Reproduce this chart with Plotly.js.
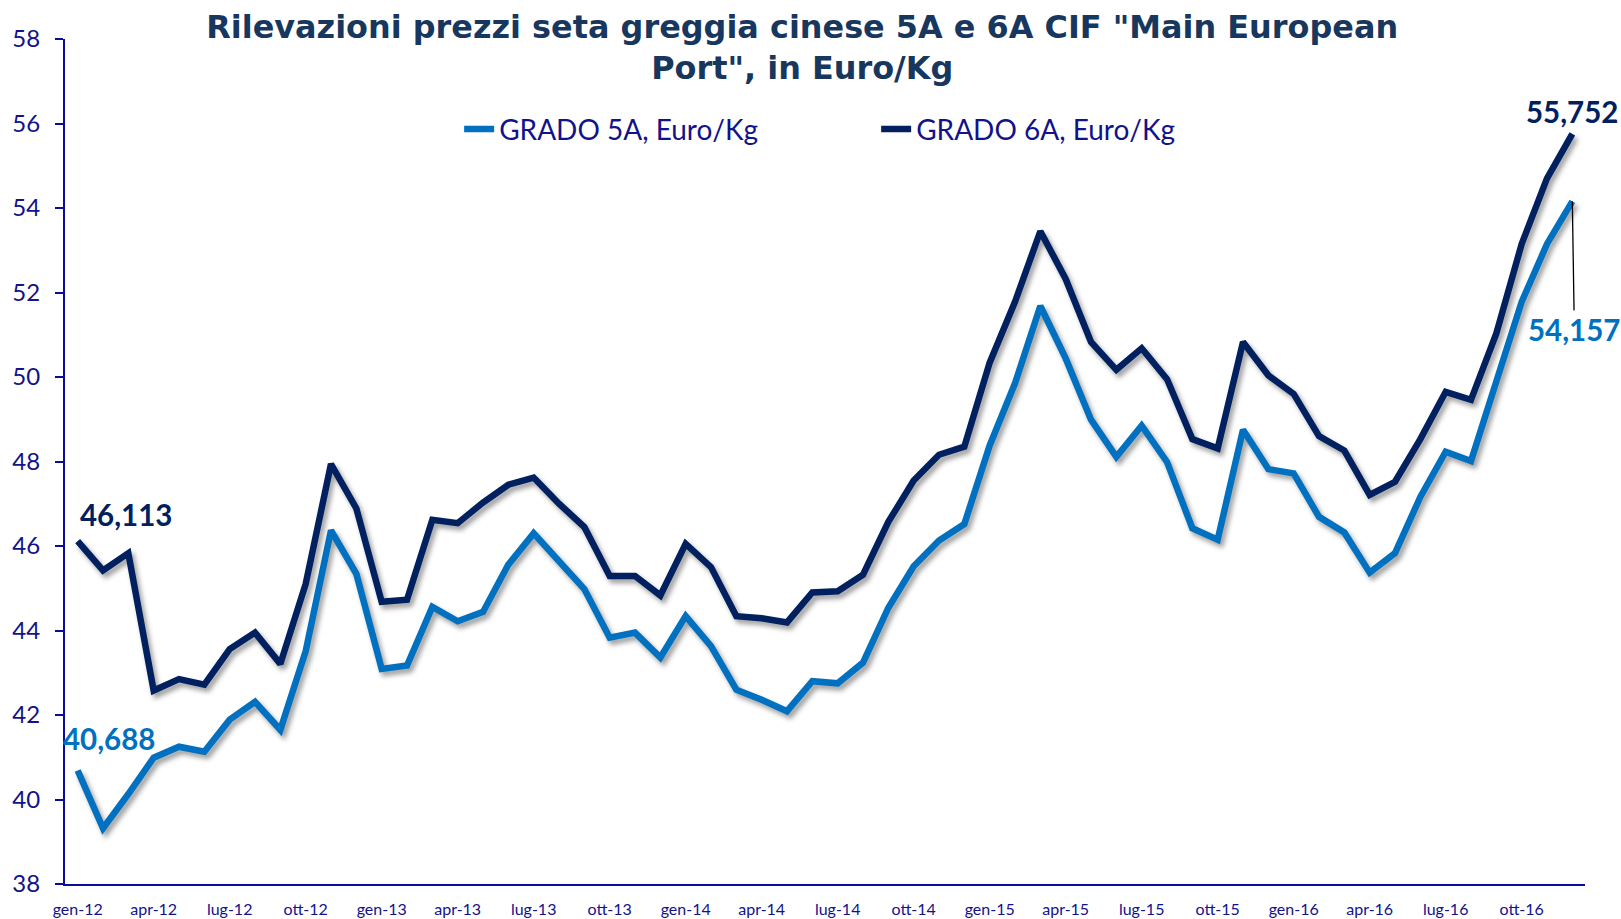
<!DOCTYPE html>
<html>
<head>
<meta charset="utf-8">
<script src="https://cdn.plot.ly/plotly-3.0.1.min.js"></script>
<style>
  html, body { margin: 0; padding: 0; background: #fff; }
  #chart { width: 1621px; height: 919px; }
  .scatterlayer .js-line { filter: drop-shadow(3px 4px 2.5px rgba(0,0,0,0.38)); }
</style>
</head>
<body>
<div id="chart"></div>
<script>
const months = [
  'gen-12','feb-12','mar-12','apr-12','mag-12','giu-12','lug-12','ago-12','set-12','ott-12','nov-12','dic-12',
  'gen-13','feb-13','mar-13','apr-13','mag-13','giu-13','lug-13','ago-13','set-13','ott-13','nov-13','dic-13',
  'gen-14','feb-14','mar-14','apr-14','mag-14','giu-14','lug-14','ago-14','set-14','ott-14','nov-14','dic-14',
  'gen-15','feb-15','mar-15','apr-15','mag-15','giu-15','lug-15','ago-15','set-15','ott-15','nov-15','dic-15',
  'gen-16','feb-16','mar-16','apr-16','mag-16','giu-16','lug-16','ago-16','set-16','ott-16','nov-16','dic-16'
];

const grado5A = [
  40.688, 39.32, 40.13, 40.99, 41.25, 41.13, 41.89, 42.31, 41.65, 43.51, 46.37, 45.34,
  43.09, 43.17, 44.56, 44.22, 44.44, 45.56, 46.30, 45.64, 44.98, 43.83, 43.95, 43.36,
  44.34, 43.63, 42.60, 42.36, 42.09, 42.80, 42.75, 43.24, 44.54, 45.52, 46.13, 46.52,
  48.38, 49.85, 51.68, 50.44, 48.99, 48.11, 48.85, 47.99, 46.42, 46.15, 48.75, 47.82,
  47.72, 46.69, 46.32, 45.37, 45.83, 47.16, 48.23, 48.01, 49.87, 51.78, 53.15, 54.157
];

const grado6A = [
  46.113, 45.42, 45.83, 42.58, 42.85, 42.72, 43.56, 43.95, 43.21, 45.10, 47.94, 46.89,
  44.68, 44.73, 46.62, 46.54, 47.03, 47.45, 47.62, 47.00, 46.45, 45.29, 45.29, 44.83,
  46.05, 45.50, 44.34, 44.29, 44.19, 44.90, 44.93, 45.32, 46.57, 47.55, 48.16, 48.35,
  50.34, 51.78, 53.45, 52.32, 50.83, 50.17, 50.68, 49.95, 48.53, 48.31, 50.83, 50.04,
  49.60, 48.60, 48.26, 47.21, 47.52, 48.53, 49.65, 49.46, 51.03, 53.15, 54.70, 55.752
];

const tickLabels = ['gen-12','apr-12','lug-12','ott-12','gen-13','apr-13','lug-13','ott-13',
  'gen-14','apr-14','lug-14','ott-14','gen-15','apr-15','lug-15','ott-15',
  'gen-16','apr-16','lug-16','ott-16'];

const seriesNames = ['GRADO 5A, Euro/Kg', 'GRADO 6A, Euro/Kg'];
const labelFirst5A = '40,688', labelLast5A = '54,157';
const labelFirst6A = '46,113', labelLast6A = '55,752';

const C5 = '#0070C0', C6 = '#002060';
const AXC = '#0B0BA0', TXT = '#12128A';

// tick mark positions on the hidden overlay axis (every 4 categories, between categories)
const minorTicks = [];
for (let k = -0.5; k <= months.length - 0.5 + 1e-9; k += 4) minorTicks.push(k);

const traces = [
  { x: months, y: grado5A, name: seriesNames[0], type: 'scatter', mode: 'lines',
    line: { color: C5, width: 6.5 } },
  { x: months, y: grado6A, name: seriesNames[1], type: 'scatter', mode: 'lines',
    line: { color: C6, width: 6.5 } }
];

const n = months.length;
const annFont = (c) => ({ family: 'Lato, Carlito, sans-serif', size: 29.5, color: c, weight: 'bold' });

const layout = {
  width: 1621, height: 919,
  margin: { l: 65, r: 36, t: 39, b: 35 },
  paper_bgcolor: '#fff', plot_bgcolor: '#fff',
  showlegend: true,
  title: {
    text: 'Rilevazioni prezzi seta greggia cinese 5A e 6A CIF "Main European<br>Port", in Euro/Kg',
    font: { family: 'DejaVu Sans, Verdana, sans-serif', size: 31.9, color: '#17375E', weight: 'bold' },
    x: 0.485, xanchor: 'center', xref: 'paper',
    y: 0.959, yanchor: 'top', yref: 'container'
  },
  legend: {
    orientation: 'h', x: 0.2593, xanchor: 'left', y: 0.893, yanchor: 'middle',
    font: { family: 'Lato, Carlito, sans-serif', size: 28, color: TXT },
    entrywidth: 372, bgcolor: 'rgba(0,0,0,0)'
  },
  xaxis: {
    type: 'category', range: [-0.5, n - 0.5],
    tickmode: 'array', tickvals: tickLabels, ticktext: tickLabels,
    ticks: '', showgrid: false, zeroline: false,
    showline: true, linecolor: AXC, linewidth: 2,
    tickfont: { family: 'Lato, Carlito, sans-serif', size: 16, color: TXT },
    ticklabelstandoff: 10
  },
  xaxis2: {
    type: 'linear', overlaying: 'x', anchor: 'y', side: 'bottom',
    range: [-0.5, n - 0.5], tickmode: 'array', tickvals: minorTicks,
    ticks: 'outside', ticklen: 8, tickwidth: 2, tickcolor: AXC,
    showticklabels: false, showgrid: false, zeroline: false, showline: false
  },
  yaxis: {
    range: [38, 58], tickmode: 'linear', tick0: 38, dtick: 2,
    ticks: 'outside', ticklen: 8, tickwidth: 2, tickcolor: AXC,
    showgrid: false, zeroline: false,
    showline: true, linecolor: AXC, linewidth: 2,
    tickfont: { family: 'Lato, Carlito, sans-serif', size: 24, color: TXT },
    ticklabelstandoff: 10
  },
  annotations: [
    { x: months[0], y: grado6A[0], xref: 'x', yref: 'y', text: labelFirst6A, showarrow: false,
      xshift: 48, yshift: 27, font: annFont(C6) },
    { x: months[0], y: grado5A[0], xref: 'x', yref: 'y', text: labelFirst5A, showarrow: false,
      xshift: 31, yshift: 32, font: annFont(C5) },
    { x: months[n - 1], y: grado6A[n - 1], xref: 'x', yref: 'y', text: labelLast6A, showarrow: false,
      xshift: 0, yshift: 22, font: annFont(C6) },
    { x: months[n - 1], y: grado5A[n - 1], xref: 'x', yref: 'y', text: labelLast5A, showarrow: true,
      arrowhead: 0, arrowwidth: 1.3, arrowcolor: '#000', ax: 2, ay: 128, standoff: 0,
      font: annFont(C5) }
  ]
};

Plotly.newPlot('chart', traces, layout, { displayModeBar: false, staticPlot: true });
</script>
</body>
</html>
